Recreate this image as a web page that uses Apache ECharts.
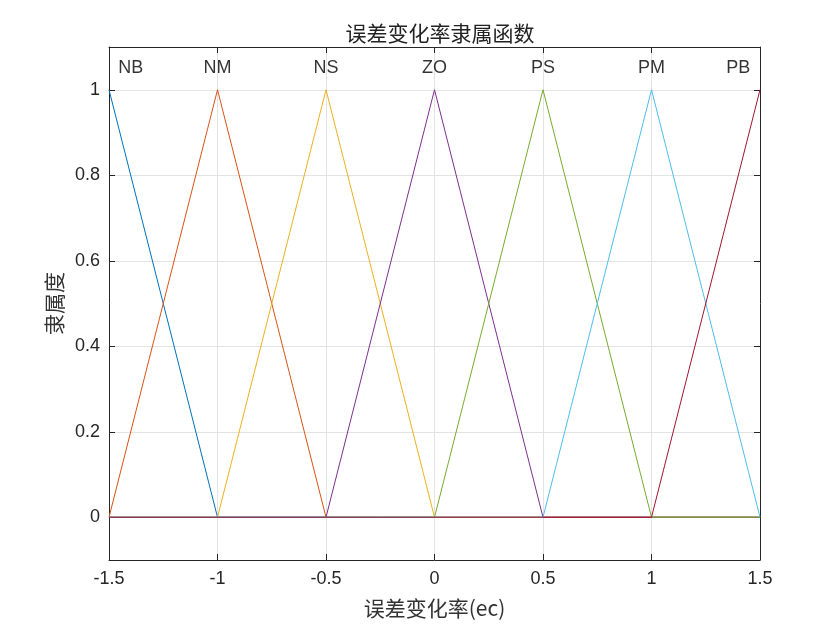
<!DOCTYPE html>
<html><head><meta charset="utf-8">
<script src="https://cdn.jsdelivr.net/npm/echarts@6/dist/echarts.min.js"></script>
<style>html,body{margin:0;padding:0;background:#fff}#c{width:840px;height:630px}</style>
</head><body><div id="c"></div>
<script>
const setNames = ['NB','NM','NS','ZO','PS','PM','PB'];
const colors = ['#0072BD','#D95319','#EDB120','#7E2F8E','#77AC30','#4DBEEE','#A2142F'];
// trimf vertices [x, mu] over universe [-1.5, 1.5]
const NB = [[-1.5,1],[-1,0],[1.5,0]];
const NM = [[-1.5,0],[-1,1],[-0.5,0],[1.5,0]];
const NS = [[-1.5,0],[-1,0],[-0.5,1],[0,0],[1.5,0]];
const ZO = [[-1.5,0],[-0.5,0],[0,1],[0.5,0],[1.5,0]];
const PS = [[-1.5,0],[0,0],[0.5,1],[1,0],[1.5,0]];
const PM = [[-1.5,0],[0.5,0],[1,1],[1.5,0]];
const PB = [[-1.5,0],[1,0],[1.5,1]];
const sets = [NB,NM,NS,ZO,PS,PM,PB];
const labelX = [-1.4,-1,-0.5,0,0.5,1,1.4];
const labelY = [1.05,1.05,1.05,1.05,1.05,1.05,1.05];
const xTicks = [-1.5,-1,-0.5,0,0.5,1,1.5];
const yTicks = [0,0.2,0.4,0.6,0.8,1];

const font = 'Liberation Sans, Arial, sans-serif';
const cjk = '"Noto Sans CJK SC", sans-serif';
const axisCol = '#262626';
const gridCol = '#e3e3e3';

const series = sets.map((d,i)=>({
  type:'line', name:setNames[i], data:d, showSymbol:false, symbol:'none',
  lineStyle:{width:1,color:colors[i]}, itemStyle:{color:colors[i]}, silent:true, animation:false
}));
series.push({
  type:'scatter', symbolSize:0, animation:false, silent:true,
  data: labelX.map((x,i)=>({value:[x,labelY[i]], name:setNames[i]})),
  label:{show:true, position:'inside', formatter:p=>p.name, color:'#000', fontSize:18, fontFamily:font}
});

const fmt = v => {
  const r = Math.round(v*10)/10;
  return String(r);
};

const chart = echarts.init(document.getElementById('c'), null, {renderer:'canvas'});
chart.setOption({
  animation:false,
  backgroundColor:'#fff',
  title:{text:'误差变化率隶属函数', left:435, textAlign:'center', top:18,
    textStyle:{fontFamily:cjk, fontSize:21, fontWeight:'normal', color:'#222'}},
  grid:{left:109, right:80, top:47, bottom:70},
  xAxis:[{
    type:'value', min:-1.5, max:1.5, interval:0.5, position:'bottom',
    name:'误差变化率(ec)', nameLocation:'middle', nameGap:38,
    nameTextStyle:{fontFamily:cjk, fontSize:21, color:'#333'},
    axisLine:{show:true, onZero:false, lineStyle:{color:axisCol, width:1}},
    axisTick:{show:true, inside:true, length:6, lineStyle:{color:axisCol}},
    axisLabel:{fontFamily:font, fontSize:18, color:'#262626', margin:10, formatter:fmt},
    splitLine:{show:true, lineStyle:{color:gridCol, width:1}}
  },{
    type:'value', min:-1.5, max:1.5, interval:0.5, position:'top',
    axisLine:{show:true, onZero:false, lineStyle:{color:axisCol, width:1}},
    axisTick:{show:true, inside:true, length:6, lineStyle:{color:axisCol}},
    axisLabel:{show:false}, splitLine:{show:false}
  }],
  yAxis:[{
    type:'value', min:-0.1, max:1.1, position:'left',
    name:'隶属度', nameLocation:'middle', nameGap:44, nameRotate:90,
    nameTextStyle:{fontFamily:cjk, fontSize:21, color:'#333'},
    axisLine:{show:true, onZero:false, lineStyle:{color:axisCol, width:1}},
    axisTick:{show:true, inside:true, length:6, lineStyle:{color:axisCol}, customValues:yTicks},
    axisLabel:{fontFamily:font, fontSize:18, color:'#262626', margin:9, customValues:yTicks, formatter:fmt},
    splitLine:{show:true, lineStyle:{color:gridCol, width:1}}
  },{
    type:'value', min:-0.1, max:1.1, position:'right',
    axisLine:{show:true, onZero:false, lineStyle:{color:axisCol, width:1}},
    axisTick:{show:true, inside:true, length:6, lineStyle:{color:axisCol}, customValues:yTicks},
    axisLabel:{show:false}, splitLine:{show:false}
  }],
  series: series
});
</script></body></html>
